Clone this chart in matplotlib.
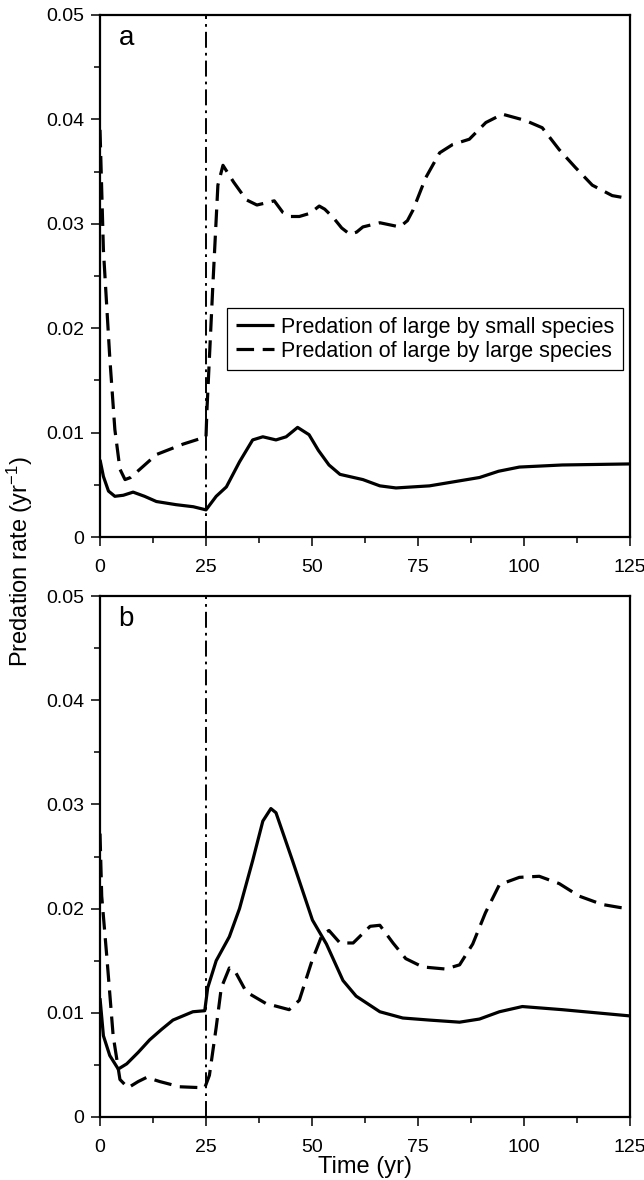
import matplotlib
matplotlib.use("Agg")
import matplotlib.pyplot as plt
from matplotlib.ticker import MultipleLocator

plt.rcParams['font.family'] = ['Liberation Sans', 'DejaVu Sans']
plt.rcParams['mathtext.fontset'] = 'custom'
plt.rcParams['mathtext.rm'] = 'Liberation Sans'
plt.rcParams['mathtext.it'] = 'Liberation Sans:italic'

# panel a: predation rates
t_a_small = [0, 0.8, 2, 3.5, 5.5, 7.8, 10.5, 13.3, 17.9, 22, 25, 27.4, 29.8, 32.9, 36,
             38.4, 41.5, 43.9, 46.6, 49.3, 51.5, 54, 56.6, 62, 66, 69.8, 77.7, 89.5,
             94, 98.9, 109, 125]
v_a_small = [0.0074, 0.0058, 0.0044, 0.0039, 0.0040, 0.0043, 0.0039, 0.0034, 0.0031,
             0.0029, 0.0026, 0.0039, 0.0048, 0.0072, 0.0093, 0.0096, 0.0093, 0.0096,
             0.0105, 0.0098, 0.0083, 0.0069, 0.0060, 0.0055, 0.0049, 0.0047, 0.0049,
             0.0057, 0.0063, 0.0067, 0.0069, 0.0070]

t_a_large = [0, 0.8, 2.3, 3.5, 4.7, 5.9, 7.2, 8.6, 13.3, 19.6, 25, 25.2, 26.6, 27.8, 29,
             31.5, 34.5, 37, 39.1, 41.1, 43.1, 45, 47, 49.5, 51.7, 53, 55, 57, 58.9,
             60.5, 62, 66, 70.7, 72.5, 73.8, 76.8, 80.1, 83.2, 87.1, 91, 94.9, 100.3,
             104.3, 108.3, 112.1, 116.1, 120.8, 125]
v_a_large = [0.0390, 0.0275, 0.0172, 0.0103, 0.0065, 0.0055, 0.0057, 0.0062, 0.0079,
             0.0089, 0.0096, 0.0120, 0.0240, 0.0337, 0.0356, 0.0340, 0.0323, 0.0318,
             0.0320, 0.0322, 0.0311, 0.0307, 0.0307, 0.0310, 0.0317, 0.0314, 0.0306,
             0.0296, 0.0290, 0.0292, 0.0297, 0.0301, 0.0297, 0.0303, 0.0313, 0.0344,
             0.0368, 0.0376, 0.0381, 0.0397, 0.0405, 0.0399, 0.0392, 0.0371, 0.0354,
             0.0337, 0.0327, 0.0324]

# panel b
t_b_small = [0, 0.8, 2.3, 4.3, 6.3, 9, 11.7, 14.5, 17.2, 21.9, 24.7, 25.4, 27.4, 30.5,
             32.9, 36, 38.4, 40.3, 41.5, 45.4, 50.1, 53.4, 57.3, 60.4, 66, 71.4, 77.7,
             84.8, 89.5, 94.2, 99.6, 109, 125]
v_b_small = [0.0114, 0.0078, 0.0059, 0.0046, 0.0051, 0.0062, 0.0074, 0.0084, 0.0093,
             0.0101, 0.0102, 0.0124, 0.0150, 0.0173, 0.0200, 0.0246, 0.0284, 0.0296,
             0.0292, 0.0246, 0.0189, 0.0166, 0.0131, 0.0116, 0.0101, 0.0095, 0.0093,
             0.0091, 0.0094, 0.0101, 0.0106, 0.0103, 0.0097]

t_b_large = [0, 0.4, 1.6, 3.1, 4.7, 6.6, 9, 11, 14.1, 18.8, 24.7, 25.8, 27.4, 28.6,
             30.5, 31.7, 34.5, 39.1, 44.6, 47, 50, 52.4, 54, 56.6, 59.7, 63.7, 66,
             69.1, 72.1, 76.1, 81.5, 84.8, 87.9, 90.9, 94.2, 98.9, 103.6, 108.3, 113,
             118.4, 122.7, 125]
v_b_large = [0.0272, 0.0212, 0.0154, 0.0078, 0.0036, 0.0028, 0.0034, 0.0038, 0.0034,
             0.0029, 0.0028, 0.0040, 0.0086, 0.0124, 0.0143, 0.0141, 0.0120, 0.0109,
             0.0103, 0.0112, 0.0150, 0.0175, 0.0179, 0.0167, 0.0167, 0.0183, 0.0184,
             0.0167, 0.0152, 0.0144, 0.0142, 0.0146, 0.0166, 0.0196, 0.0223, 0.0230,
             0.0231, 0.0224, 0.0212, 0.0204, 0.0201, 0.0200]

x_ticks = [0, 25, 50, 75, 100, 125]
y_ticks = [0, 0.01, 0.02, 0.03, 0.04, 0.05]
y_tick_labels = ['0', '0.01', '0.02', '0.03', '0.04', '0.05']
switch_year = 25
legend_labels = ['Predation of large by small species',
                 'Predation of large by large species']

fig = plt.figure(figsize=(6.44, 11.8), dpi=100)
# panels: a spans y 15-537 px, b spans y 596-1117 px
ax_a = fig.add_axes([0.1553, 0.5449, 0.8230, 0.4424])
ax_b = fig.add_axes([0.1553, 0.0534, 0.8230, 0.4415])

dash = (0, (5.5, 2.7))
for ax, ts, vs, tl, vl, tag in [(ax_a, t_a_small, v_a_small, t_a_large, v_a_large, 'a'),
                                 (ax_b, t_b_small, v_b_small, t_b_large, v_b_large, 'b')]:
    ax.plot(ts, vs, color='black', lw=2.3, solid_joinstyle='round',
            solid_capstyle='butt', label=legend_labels[0])
    ax.plot(tl, vl, color='black', lw=2.3, linestyle=dash, dash_capstyle='butt',
            dash_joinstyle='round', label=legend_labels[1])
    ax.axvline(switch_year, color='black', lw=1.4, linestyle=(0, (8.2, 2.6, 1.4, 2.6)))
    ax.set_xlim(0, 125)
    ax.set_ylim(0, 0.05)
    ax.set_xticks(x_ticks)
    ax.set_xticklabels([str(v) for v in x_ticks])
    ax.set_yticks(y_ticks)
    ax.set_yticklabels(y_tick_labels)
    ax.xaxis.set_minor_locator(MultipleLocator(12.5))
    ax.yaxis.set_minor_locator(MultipleLocator(0.005))
    ax.tick_params(which='major', direction='out', length=6.5, width=1.1,
                   labelsize=14, colors='black')
    ax.tick_params(axis='x', which='major', pad=9)
    ax.tick_params(axis='y', which='major', pad=5)
    ax.tick_params(which='minor', direction='out', length=4, width=1.1)
    for sp in ax.spines.values():
        sp.set_linewidth(1.6)
    ax.text(0.035, 0.955, tag, transform=ax.transAxes, fontsize=20,
            ha='left', va='center')

leg = ax_a.legend(loc='upper right', bbox_to_anchor=(0.987, 0.4387),
                  borderaxespad=0, fontsize=15.5, frameon=True, fancybox=False,
                  edgecolor='black', framealpha=1, handlelength=1.75,
                  handletextpad=0.35, borderpad=0.4, labelspacing=0.15)
leg.get_frame().set_linewidth(0.9)

ax_b.set_xlabel('Time (yr)', fontsize=17, labelpad=0)
fig.text(0.031, 0.524, 'Predation rate (yr$^{-1}$)', rotation=90, fontsize=17,
         ha='center', va='center')

fig.savefig('out.png', dpi=100)
